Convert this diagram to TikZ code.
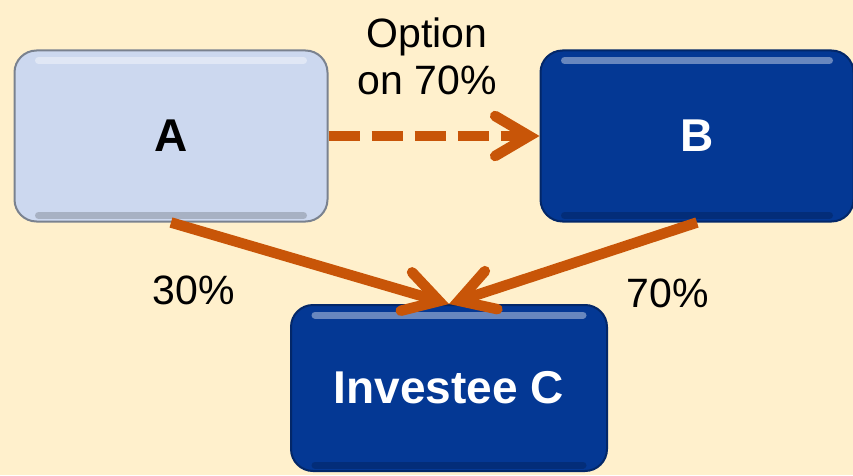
\documentclass[tikz,border=0pt]{standalone}
\usepackage{fontspec}
\setmainfont{Liberation Sans}
\usetikzlibrary{
    arrows.meta,
    calc,
    positioning
}
\definecolor{bgyellow}{HTML}{FFF0CC}
\definecolor{lightbox}{HTML}{CCD8EF}
\definecolor{darkbox}{HTML}{043894}
\definecolor{stakebrown}{HTML}{C85508}

\tikzset{
    entity/.style={rounded corners=22pt, minimum width=313pt, minimum height=171pt,
        inner sep=0pt, line width=2pt, font=\fontsize{46}{52}\selectfont\bfseries,
        path picture={
            \draw[white, opacity=.4, line width=7pt, line cap=round]
            ($(path picture bounding box.north west)+(24pt,-10pt)$) --
            ($(path picture bounding box.north east)+(-24pt,-10pt)$);
            \draw[black, opacity=.18, line width=7pt, line cap=round]
            ($(path picture bounding box.south west)+(24pt,6pt)$) --
            ($(path picture bounding box.south east)+(-24pt,6pt)$);
        }},
    lightentity/.style={entity, fill=lightbox, draw=lightbox!60!black, text=black},
    darkentity/.style={entity, fill=darkbox, draw=darkbox!70!black, text=white},
    stake/.style={stakebrown, line width=10.5pt,
        -{Straight Barb[length=34pt, width=40pt, line cap=round]}},
    pct/.style={font=\fontsize{41}{47}\selectfont, align=center}
}

\begin{document}
\begin{tikzpicture}[x=1pt, y=1pt]
    \useasboundingbox[fill=bgyellow] (0, 0) rectangle (853, 475);

    \node[lightentity] (a) at (171, 339) {A};
    \node[darkentity] (b) at (697, 339) {B};
    \node[darkentity, minimum width=316pt, minimum height=166pt] (c) at (449, 87) {Investee C};

    \node[pct] (opt) at (427, 419) {Option\\on 70\%};
    \node[pct] (pa) at (194, 185) {30\%};
    \node[pct] (pb) at (668, 182) {70\%};

    \draw[stake, dash pattern=on 31pt off 12pt] (a.east) -- (b.west);
    \draw[stake] (a.south) -- (c.north);
    \draw[stake] (b.south) -- (c.north);
\end{tikzpicture}
\end{document}
